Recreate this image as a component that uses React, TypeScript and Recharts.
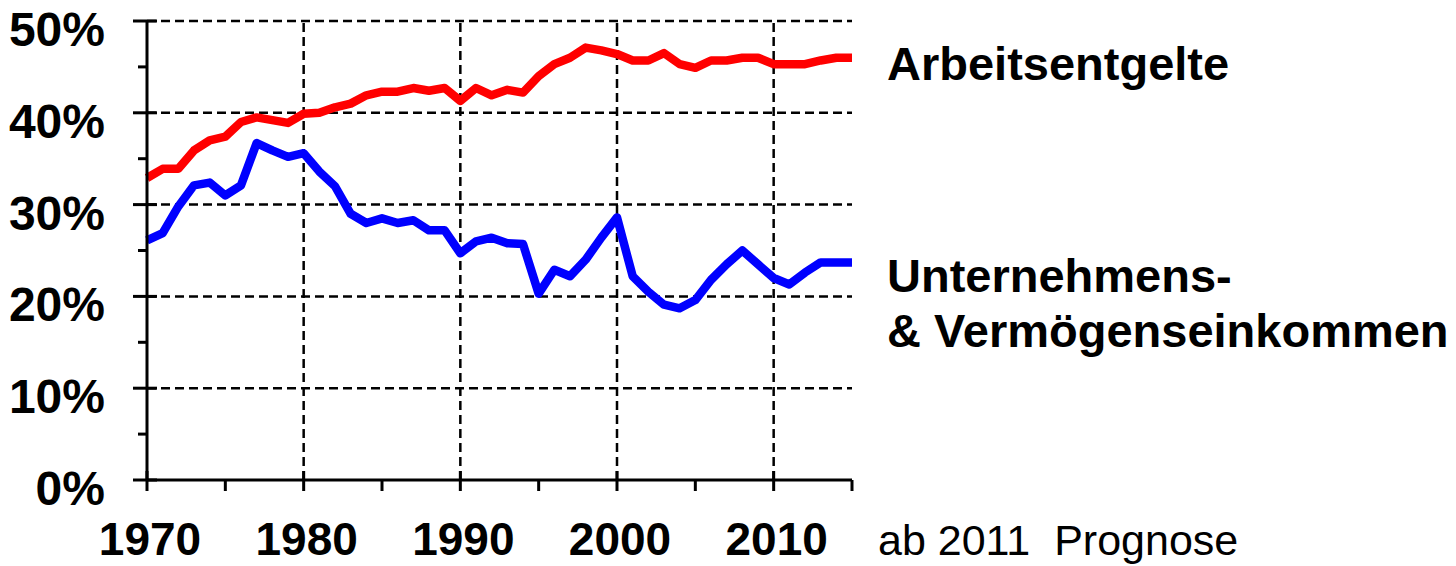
import React from "react";
import { LineChart, Line, XAxis, YAxis, ReferenceLine } from "recharts";

const years = [
  1970, 1971, 1972, 1973, 1974, 1975, 1976, 1977, 1978, 1979,
  1980, 1981, 1982, 1983, 1984, 1985, 1986, 1987, 1988, 1989,
  1990, 1991, 1992, 1993, 1994, 1995, 1996, 1997, 1998, 1999,
  2000, 2001, 2002, 2003, 2004, 2005, 2006, 2007, 2008, 2009,
  2010, 2011, 2012, 2013, 2014, 2015,
];

// Anteil am Volkseinkommen in %
const arbeitsentgelte = [
  32.9, 33.9, 33.9, 35.9, 37.0, 37.4, 39.0, 39.5, 39.2, 38.9,
  39.9, 40.0, 40.6, 41.0, 41.9, 42.3, 42.3, 42.7, 42.4, 42.7,
  41.3, 42.7, 41.9, 42.5, 42.2, 44.0, 45.3, 46.0, 47.1, 46.8,
  46.4, 45.7, 45.7, 46.5, 45.3, 44.9, 45.7, 45.7, 46.0, 46.0,
  45.3, 45.3, 45.3, 45.7, 46.0, 46.0,
];

const unternehmen = [
  26.1, 26.9, 29.8, 32.1, 32.4, 31.0, 32.1, 36.7, 35.9, 35.2,
  35.6, 33.6, 32.0, 29.0, 28.0, 28.5, 28.0, 28.3, 27.2, 27.2,
  24.7, 26.0, 26.4, 25.8, 25.7, 20.3, 22.9, 22.2, 24.0, 26.4,
  28.6, 22.2, 20.5, 19.1, 18.7, 19.6, 21.8, 23.5, 25.0, 23.5,
  22.0, 21.3, 22.6, 23.7, 23.7, 23.7,
];

const xTicks = [1970, 1975, 1980, 1985, 1990, 1995, 2000, 2005, 2010, 2015];
const yTicks = [0, 5, 10, 15, 20, 25, 30, 35, 40, 45, 50];
const xGrid = [1980, 1990, 2000, 2010];
const yGrid = [10, 20, 30, 40, 50];

const data = years.map((year, i) => ({
  year,
  arbeit: arbeitsentgelte[i],
  unternehmen: unternehmen[i],
}));

const FONT = '"Liberation Sans", Arial, Helvetica, sans-serif';

function YTick(props: any) {
  const { x, y, payload } = props;
  const major = payload.value % 10 === 0;
  return (
    <g>
      <line x1={major ? x - 14 : x - 9} x2={major ? x + 10 : x} y1={y} y2={y} stroke="#000" strokeWidth={3} />
      {major && (
        <text x={x - 42} y={y + 25} textAnchor="end" fontSize={48} fontWeight="bold" fontFamily={FONT} fill="#000">
          {payload.value}%
        </text>
      )}
    </g>
  );
}

function XTick(props: any) {
  const { x, y, payload } = props;
  const major = payload.value % 10 === 0;
  return (
    <g>
      <line x1={x} x2={x} y1={major ? y - 9 : y} y2={y + 11} stroke="#000" strokeWidth={3} />
      {major && (
        <text x={x + 3} y={y + 75} textAnchor="middle" fontSize={46} fontWeight="bold" fontFamily={FONT} fill="#000">
          {payload.value}
        </text>
      )}
    </g>
  );
}

export default function App() {
  return (
    <div style={{ position: "absolute", left: 0, top: 0, width: 1456, height: 566, background: "#fff" }}>
      <LineChart width={1456} height={566} data={data} margin={{ top: 21, right: 604, bottom: 0, left: 0 }}>
        <XAxis
          dataKey="year"
          type="number"
          domain={[1970, 2015]}
          ticks={xTicks}
          interval={0}
          tick={XTick}
          tickLine={false}
          tickSize={0}
          tickMargin={0}
          axisLine={{ stroke: "#000", strokeWidth: 3 }}
          height={86}
        />
        <YAxis
          type="number"
          domain={[0, 50]}
          ticks={yTicks}
          interval={0}
          tick={YTick}
          tickLine={false}
          tickSize={0}
          tickMargin={0}
          axisLine={{ stroke: "#000", strokeWidth: 3 }}
          width={147}
        />
        {yGrid.map(v => (
          <ReferenceLine key={"y" + v} y={v} stroke="#000" strokeWidth={2.5} strokeDasharray="9 5" />
        ))}
        {xGrid.map(v => (
          <ReferenceLine key={"x" + v} x={v} stroke="#000" strokeWidth={2.5} strokeDasharray="9 5" />
        ))}
        <Line
          type="linear"
          dataKey="arbeit"
          stroke="#ff0000"
          strokeWidth={8.5}
          strokeLinejoin="round"
          dot={false}
          isAnimationActive={false}
        />
        <Line
          type="linear"
          dataKey="unternehmen"
          stroke="#0000ff"
          strokeWidth={8.5}
          strokeLinejoin="round"
          dot={false}
          isAnimationActive={false}
        />
      </LineChart>
      <svg width={1456} height={566} style={{ position: "absolute", left: 0, top: 0, pointerEvents: "none" }}>
        <g fontFamily={FONT} fill="#000">
          <text x={887} y={80} fontSize={47} fontWeight="bold">Arbeitsentgelte</text>
          <text x={887} y={292} fontSize={47} fontWeight="bold">Unternehmens-</text>
          <text x={887} y={347} fontSize={47} fontWeight="bold">&amp; Vermögenseinkommen</text>
          <text x={878} y={555} fontSize={43} style={{ whiteSpace: "pre" }}>ab 2011  Prognose</text>
        </g>
      </svg>
    </div>
  );
}
